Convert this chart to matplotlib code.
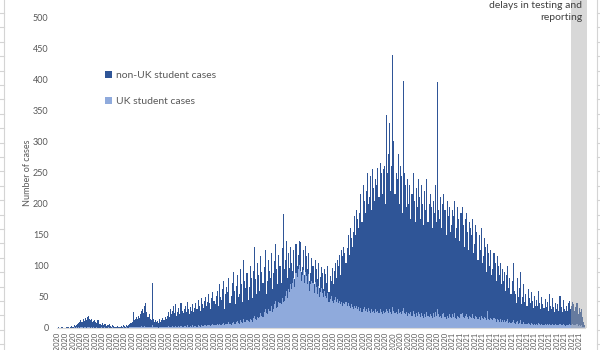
import numpy as np
import pandas as pd
import matplotlib
matplotlib.use("Agg")
import matplotlib.pyplot as plt
from matplotlib.lines import Line2D
from matplotlib.patches import Rectangle

# daily cases (top of stack = all cases, bottom = UK students)
start_date = "2020-01-01"

all_cases = [
    0, 1, 0, 0, 2, 1, 0, 0, 1, 2,
    1, 0, 2, 3, 1, 2, 4, 3, 5, 6,
    8, 10, 12, 9, 14, 11, 16, 13, 18, 20,
    15, 12, 14, 10, 11, 13, 9, 8, 12, 7,
    6, 5, 8, 4, 6, 7, 3, 5, 4, 6,
    3, 2, 4, 3, 1, 2, 3, 2, 1, 2,
    3, 2, 4, 3, 2, 5, 3, 4, 6, 8,
    10, 25, 12, 15, 18, 14, 20, 16, 22, 28,
    30, 24, 35, 40, 26, 18, 22, 14, 12, 72,
    15, 10, 12, 9, 11, 8, 14, 10, 12, 16,
    13, 18, 15, 20, 25, 17, 30, 22, 28, 35,
    24, 38, 20, 26, 32, 22, 40, 28, 24, 30,
    36, 26, 42, 30, 22, 34, 28, 38, 25, 32,
    40, 30, 45, 35, 28, 48, 38, 32, 44, 50,
    36, 42, 55, 40, 30, 48, 58, 44, 38, 52,
    60, 35, 70, 50, 45, 62, 75, 30, 55, 66,
    58, 80, 40, 52, 72, 90, 60, 38, 68, 85,
    50, 55, 95, 70, 42, 110, 75, 64, 88, 45,
    66, 100, 80, 48, 92, 130, 78, 55, 105, 85,
    60, 115, 90, 72, 98, 125, 55, 76, 110, 92,
    80, 120, 62, 88, 108, 135, 95, 70, 118, 100,
    72, 128, 183, 95, 110, 140, 80, 120, 96, 130,
    105, 92, 125, 78, 135, 100, 118, 140, 138, 90,
    98, 126, 85, 132, 115, 95, 120, 75, 88, 112,
    100, 70, 110, 95, 78, 104, 65, 82, 98, 88,
    62, 95, 86, 72, 100, 58, 84, 76, 96, 70,
    92, 105, 80, 110, 100, 118, 85, 125, 115, 130,
    120, 105, 128, 150, 118, 160, 145, 130, 155, 180,
    150, 190, 175, 160, 185, 215, 170, 230, 205, 185,
    220, 250, 200, 210, 245, 190, 255, 225, 205, 240,
    230, 258, 210, 265, 250, 215, 255, 260, 200, 342,
    250, 280, 330, 220, 260, 439, 300, 215, 250, 240,
    280, 200, 260, 245, 185, 397, 250, 230, 195, 240,
    200, 230, 175, 215, 250, 205, 170, 225, 195, 240,
    210, 175, 230, 200, 165, 220, 190, 240, 170, 200,
    215, 195, 160, 205, 185, 230, 170, 395, 190, 175,
    210, 160, 200, 215, 190, 150, 205, 180, 195, 155,
    165, 190, 180, 205, 145, 160, 195, 175, 140, 185,
    195, 165, 130, 175, 185, 155, 125, 170, 160, 150,
    175, 120, 135, 165, 155, 110, 150, 125, 160, 105,
    115, 145, 130, 90, 135, 120, 100, 125, 85, 95,
    120, 105, 75, 115, 100, 85, 105, 70, 95, 75,
    90, 60, 85, 100, 65, 80, 55, 75, 105, 60,
    55, 40, 80, 50, 65, 90, 38, 50, 70, 42,
    55, 35, 62, 48, 40, 58, 44, 32, 52, 36,
    45, 36, 60, 40, 30, 50, 38, 32, 46, 34,
    42, 28, 55, 36, 30, 48, 33, 26, 40, 30,
    38, 28, 52, 34, 26, 45, 30, 28, 36, 28,
    40, 44, 30, 36, 42, 38, 28, 34, 40, 22,
    32, 26, 30, 18, 10, 4,
]

uk_cases = [
    0, 0, 0, 0, 0, 0, 0, 0, 0, 0,
    0, 0, 0, 0, 0, 0, 1, 0, 1, 0,
    1, 0, 1, 1, 0, 2, 1, 0, 1, 2,
    1, 0, 1, 0, 1, 0, 0, 1, 0, 0,
    0, 1, 0, 0, 1, 0, 0, 0, 1, 0,
    0, 0, 1, 0, 0, 0, 0, 0, 0, 0,
    0, 0, 1, 0, 0, 1, 0, 0, 1, 1,
    1, 2, 1, 2, 1, 1, 2, 1, 2, 3,
    2, 1, 3, 2, 1, 1, 2, 1, 1, 4,
    1, 1, 2, 1, 1, 0, 1, 1, 2, 1,
    1, 2, 1, 2, 3, 1, 2, 2, 3, 2,
    2, 3, 1, 2, 3, 2, 3, 2, 2, 3,
    3, 2, 4, 2, 2, 3, 2, 4, 2, 3,
    3, 2, 4, 3, 2, 4, 3, 3, 4, 5,
    3, 4, 5, 4, 3, 5, 6, 4, 4, 5,
    6, 4, 7, 5, 4, 6, 8, 5, 6, 7,
    6, 9, 7, 5, 8, 10, 7, 6, 9, 11,
    8, 7, 12, 9, 8, 14, 10, 9, 13, 11,
    10, 15, 12, 10, 16, 20, 14, 12, 18, 16,
    18, 24, 20, 17, 26, 30, 24, 22, 30, 28,
    28, 36, 25, 30, 38, 44, 32, 34, 42, 40,
    38, 48, 42, 44, 52, 60, 48, 62, 58, 70,
    62, 72, 80, 66, 88, 82, 95, 102, 92, 75,
    85, 94, 72, 90, 84, 70, 86, 60, 70, 76,
    72, 56, 74, 66, 55, 68, 50, 58, 64, 56,
    50, 60, 52, 48, 56, 42, 46, 52, 44, 40,
    45, 50, 42, 46, 40, 44, 38, 42, 36, 40,
    38, 42, 35, 40, 36, 32, 38, 34, 30, 36,
    32, 35, 30, 34, 28, 32, 26, 30, 34, 28,
    30, 26, 32, 28, 24, 30, 26, 28, 24, 30,
    26, 28, 24, 30, 26, 22, 28, 24, 26, 30,
    28, 24, 30, 26, 22, 34, 28, 24, 26, 22,
    30, 24, 26, 22, 28, 32, 24, 22, 26, 20,
    24, 22, 26, 20, 28, 22, 18, 24, 20, 26,
    22, 18, 24, 20, 16, 22, 18, 26, 20, 18,
    22, 20, 16, 24, 18, 26, 20, 30, 22, 18,
    20, 16, 22, 24, 18, 14, 20, 16, 22, 18,
    16, 22, 18, 24, 16, 14, 20, 18, 16, 22,
    24, 18, 16, 20, 22, 18, 14, 20, 18, 16,
    22, 16, 14, 20, 18, 14, 18, 12, 20, 16,
    14, 18, 16, 12, 28, 14, 12, 16, 14, 12,
    16, 14, 10, 14, 12, 10, 14, 10, 12, 10,
    12, 9, 11, 14, 8, 10, 8, 10, 12, 8,
    7, 9, 11, 6, 8, 12, 7, 6, 9, 6,
    7, 6, 8, 7, 5, 8, 6, 5, 7, 5,
    6, 5, 8, 6, 5, 7, 5, 4, 6, 5,
    6, 4, 7, 5, 4, 6, 5, 4, 6, 4,
    5, 4, 6, 5, 4, 6, 4, 3, 5, 4,
    5, 6, 4, 5, 6, 5, 4, 5, 6, 3,
    4, 3, 4, 2, 1, 1,
]

delay_days = 13  # last days shaded as affected by reporting delays
delay_note = "Most recent data affected by\ndelays in testing and\nreporting"

DARK = "#2F5597"
LIGHT = "#8FAADC"
GREY_TXT = "#595959"

plt.rcParams["font.family"] = ["Lato", "DejaVu Sans"]

all_arr = np.array(all_cases)
uk_arr = np.array(uk_cases)
non_uk = all_arr - uk_arr
n = len(all_arr)
dates = pd.date_range(start_date, periods=n, freq="D")
x = np.arange(n)

fig = plt.figure(figsize=(6, 3.5), dpi=100)
ax = fig.add_axes([0.095, 0.063, 0.88, 0.888])

ax.bar(x, uk_arr, width=1.0, color=LIGHT, linewidth=0, label="UK student cases")
ax.bar(x, non_uk, width=1.0, bottom=uk_arr, color=DARK, linewidth=0,
       label="non-UK student cases")

ax.set_xlim(-0.5, n - 0.5)
ax.set_ylim(0, 500)
ax.set_yticks(np.arange(0, 501, 50))

tick_pos = x[::7]
ax.set_xticks(tick_pos)
ax.set_xticklabels([d.strftime("%d/%m/%Y") for d in dates[::7]],
                   rotation=90, fontsize=5.5, color=GREY_TXT)
ax.tick_params(axis="y", length=0, labelsize=6.5, labelcolor=GREY_TXT, pad=6)
ax.tick_params(axis="x", length=0, pad=3)

for s in ["top", "right", "left"]:
    ax.spines[s].set_visible(False)
ax.spines["bottom"].set_color("#D9D9D9")

ax.set_ylabel("Number of cases", fontsize=6.5, color=GREY_TXT, labelpad=1)

# shaded period with reporting delays
shade = Rectangle((n - delay_days - 0.5, 0), delay_days + 1.5, 560,
                  facecolor="#AAAAAA", alpha=0.45, edgecolor="none",
                  clip_on=False, zorder=3)
ax.add_patch(shade)
ax.text(n - 3, 492, delay_note, ha="right", va="bottom", fontsize=7.5,
        color="#404040", linespacing=1.45, clip_on=False)

handles, labels = ax.get_legend_handles_labels()
leg = ax.legend(handles[::-1], labels[::-1], loc="upper left",
                bbox_to_anchor=(0.073, 0.857), frameon=False, fontsize=7.5,
                handlelength=0.7, handleheight=0.7, handletextpad=0.4,
                labelspacing=1.6)
for t in leg.get_texts():
    t.set_color(GREY_TXT)

# spreadsheet cell borders at the picture edges
for fx, dx in [(3.5 / 600, -3.5 / 600), (596.5 / 600, 3.5 / 600)]:
    fig.add_artist(Line2D([fx, fx], [0, 1], color="#D4D4D4", lw=0.8,
                          transform=fig.transFigure))
    for yy in np.arange(13, 350, 14.4):
        fy = 1 - yy / 350
        fig.add_artist(Line2D([fx, fx + dx], [fy, fy], color="#D4D4D4",
                              lw=0.8, transform=fig.transFigure))

fig.savefig("out.png", dpi=100)
